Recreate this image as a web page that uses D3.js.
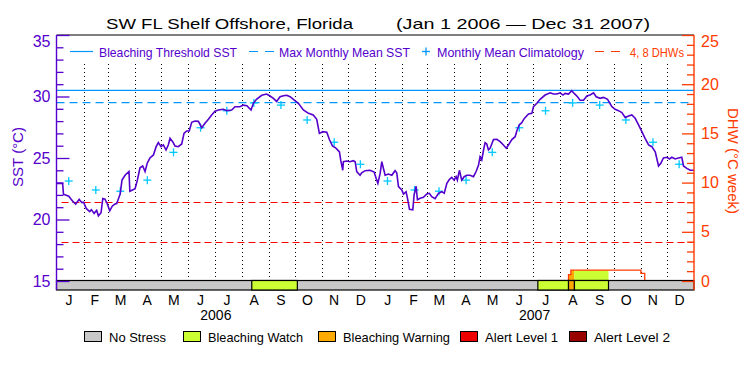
<!DOCTYPE html>
<html>
<head>
<meta charset="utf-8">
<title>SW FL Shelf Offshore, Florida</title>
<script src="https://d3js.org/d3.v7.min.js"></script>
<style>
  body { margin: 0; background: #fff; }
  text { font-family: "Liberation Sans", Arial, sans-serif; }
</style>
</head>
<body>
<script>
// ---------- data ----------
var monthLetters = ["J","F","M","A","M","J","J","A","S","O","N","D"];
var years = [2006, 2007];

// SST series: days since Jan 1 2006, deg C
var sstDay = [0,4,7,8,14,19,22,26,29,31,34,38,40,43,46,48,51,53,55.5,58,61,64,67,69,73,75,78.5,83,84,87,90,
  92.6,95.6,98.7,101.4,104,107,111,114,116.6,119.7,122.4,125.4,128,130,133,135.7,139.5,143.4,146,149,152,
  154.8,158.6,162.5,166.3,170,174,177.7,181.5,185.4,191,195,200.6,204.4,210,214,218,222.8,225.4,229,235,
  240.7,244.5,248.4,252,256,260,263.6,267.5,273,277,282.7,288.5,294,298,301,305,309.5,312.5,316,320,324,
  325.5,327.8,328.5,332.4,336,340,342,343.8,347.6,349.5,353.4,359,363.7,366,368,370.6,372.5,374.4,376.3,
  380,384,387.7,389.6,391.6,395.4,397.3,400.3,402,404.2,408,409.5,411.8,413.3,416.4,420.2,424,427,429.7,
  433.5,437.4,441.2,444,447,450,452.6,455.3,457.6,459,461.4,464,466.8,469.8,473.6,477.5,480.5,483.2,485,
  487,489,490.8,492.7,494.6,496.6,500.4,504.2,508,511.8,515,517.5,521.4,525.2,527.1,530,532.8,535.5,540.5,
  544.3,546.2,550,553.8,559.5,565.3,569,573,576.7,580,582.4,586.3,590,592.8,596.6,599.6,603.5,607.3,611,
  615,618,622.5,626.4,631,636,639.7,643.5,647.4,651.2,655,658.8,662.6,666.5,670.3,674,678,681.7,685.6,
  689.4,692,695,699,702,704.6,708.4,712.3,716,718,721.8,725.6,730];
var sstVal = [22.94,22.94,22.94,22.05,21.9,21.45,21.26,21.64,21.37,21.4,20.9,20.64,20.8,20.5,20.74,20.3,20.55,
  21.7,21.65,21.3,20.7,21.1,21.26,21.3,22.1,23.2,23.6,23.9,22.3,22.4,22.5,
  23.2,24.2,24.35,23.9,24.6,25.0,25.25,25.9,26.25,25.92,26.06,25.65,26.06,26.6,26.33,25.98,25.92,26.14,27.0,27.2,27.2,
  27.9,28.0,27.98,27.46,27.82,28.15,28.5,28.8,28.9,28.96,28.85,28.9,29.17,29.17,29.3,29.25,28.9,29.45,29.77,30.1,
  30.2,30.04,29.85,29.6,29.98,30.06,30.1,29.98,29.66,29.45,28.9,28.63,28.5,28.15,27.0,27.14,27.1,26.5,25.98,25.8,25.5,
  24.8,24.0,24.7,24.75,24.7,24.78,24.7,23.9,23.6,23.8,23.97,24.0,23.86,23.35,22.94,23.75,24.7,24.15,23.6,
  23.7,23.6,23.97,23.8,22.67,22.4,22.07,22.26,21.7,20.83,20.78,22.0,22.7,21.6,21.72,21.8,22.07,22.13,21.86,
  21.7,22.13,22.26,22.13,22.94,23.27,23.43,23.2,23.48,23.2,24.0,23.2,23.48,23.6,23.6,23.48,23.9,24.4,25.1,
  24.84,25.65,26.25,26.14,25.65,25.8,26.5,26.52,26.33,26.06,25.8,26.06,26.5,26.73,27.2,27.7,27.87,28.2,28.58,
  28.63,29.17,29.45,29.77,30.12,30.3,30.2,30.2,30.3,30.12,30.25,30.2,30.47,30.25,29.98,29.7,29.7,30.04,30.12,
  30.3,29.98,29.85,29.93,29.77,29.17,28.96,28.85,28.69,28.3,28.41,28.5,28.23,27.7,27.14,26.6,26.06,25.92,25.5,
  24.35,24.57,25.0,25.06,24.92,25.06,24.92,25.0,25.06,24.35,24.16,24.0,24.0];

// monthly mean climatology (Jan..Dec), deg C
var climVal = [23.13,22.4,22.3,23.2,25.46,27.46,28.84,29.48,29.3,28.09,26.28,24.49];
var mmmSST = 29.5;
var thresholdSST = 30.5;
var dhwLines = [4, 8];

// degree heating weeks (step values), days since Jan 1 2006
var dhwDay = [0, 586.3, 589, 669.2, 673.6, 730];
var dhwVal = [0, 0.64, 1.1, 0.78, 0, 0];

// stress level periods, days since Jan 1 2006
var stressStart = [223.6, 551.2, 586.3, 593.1];
var stressEnd   = [275.8, 586.3, 593.1, 632.1];
var stressLevel = [1, 1, 2, 1];
var stressNames  = ["No Stress","Bleaching Watch","Bleaching Warning","Alert Level 1","Alert Level 2"];
var stressColors = ["#c8c8c8","#ccff33","#ffaa00","#ee0000","#990000"];

// ---------- layout ----------
var W = 750, H = 375;
var pL = 56.5, pR = 694, pT = 35, pB = 290;
var purple = "#5500cc", orange = "#ff3c00", blue = "#0096ff", cyan = "#00c8ff", red = "#ff0000";

var t0 = Date.UTC(2006, 0, 1);
function dayDate(d) { return new Date(t0 + d * 864e5); }

var x = d3.scaleUtc().domain([new Date(t0), new Date(Date.UTC(2008, 0, 1))]).range([pL, pR]);
var y = d3.scaleLinear().domain([15, 35]).range([281, pT]);
var yd = d3.scaleLinear().domain([0, 25]).range([281, pT]);

var svg = d3.select("body").append("svg").attr("width", W).attr("height", H);

// title
svg.append("text").attr("x", 106).attr("y", 28.5).attr("font-size", 15)
  .attr("textLength", 247).attr("lengthAdjust", "spacingAndGlyphs")
  .text("SW FL Shelf Offshore, Florida");
svg.append("text").attr("x", 396).attr("y", 28.5).attr("font-size", 15)
  .attr("textLength", 254).attr("lengthAdjust", "spacingAndGlyphs")
  .text("(Jan 1 2006 \u2014 Dec 31 2007)");

// month dividers
var monthStarts = d3.utcMonth.range(new Date(t0), new Date(Date.UTC(2008, 0, 1)));
svg.append("g").selectAll("line").data(monthStarts.slice(1)).enter().append("line")
  .attr("x1", function(d) { return Math.round(x(d)) + 0.5; })
  .attr("x2", function(d) { return Math.round(x(d)) + 0.5; })
  .attr("y1", 64).attr("y2", 280)
  .attr("stroke", "#000").attr("stroke-width", 1).attr("stroke-dasharray", "1,3");

// threshold lines
svg.append("line").attr("x1", pL).attr("x2", pR)
  .attr("y1", y(thresholdSST)).attr("y2", y(thresholdSST))
  .attr("stroke", blue).attr("stroke-width", 1.2);
svg.append("line").attr("x1", pL).attr("x2", pR - 4)
  .attr("y1", y(mmmSST)).attr("y2", y(mmmSST))
  .attr("stroke", blue).attr("stroke-width", 1.2).attr("stroke-dasharray", "8,5");
svg.append("g").selectAll("line").data(dhwLines).enter().append("line")
  .attr("x1", pL + 5).attr("x2", pR)
  .attr("y1", function(d) { return Math.round(yd(d)) + 0.5; })
  .attr("y2", function(d) { return Math.round(yd(d)) + 0.5; })
  .attr("stroke", red).attr("stroke-width", 1.2).attr("stroke-dasharray", "7,4");

// DHW area, filled with the stress colour of each period
var dhwPts = dhwDay.map(function(d, i) { return [dayDate(d), dhwVal[i]]; });
var dhwArea = d3.area().curve(d3.curveStepAfter)
  .x(function(d) { return x(d[0]); }).y0(yd(0)).y1(function(d) { return yd(d[1]); });
var defs = svg.append("defs");
stressStart.forEach(function(s, i) {
  var id = "clip" + i;
  defs.append("clipPath").attr("id", id).append("rect")
    .attr("x", x(dayDate(s))).attr("width", x(dayDate(stressEnd[i])) - x(dayDate(s)))
    .attr("y", pT).attr("height", pB - pT);
  svg.append("path").datum(dhwPts).attr("d", dhwArea)
    .attr("fill", stressColors[stressLevel[i]]).attr("clip-path", "url(#" + id + ")");
});
svg.append("path").datum(dhwPts)
  .attr("d", d3.line().curve(d3.curveStepAfter)
    .x(function(d) { return x(d[0]); }).y(function(d) { return yd(d[1]); }))
  .attr("fill", "none").attr("stroke", orange).attr("stroke-width", 1.3);

// climatology crosses
var climPts = [];
years.forEach(function(yr) {
  climVal.forEach(function(v, m) { climPts.push([new Date(Date.UTC(yr, m, 15)), v]); });
});
var cross = svg.append("g").selectAll("g").data(climPts).enter().append("g")
  .attr("transform", function(d) { return "translate(" + x(d[0]) + "," + y(d[1]) + ")"; });
cross.append("line").attr("x1", -4).attr("x2", 4).attr("stroke", cyan).attr("stroke-width", 1.3);
cross.append("line").attr("y1", -4).attr("y2", 4).attr("stroke", cyan).attr("stroke-width", 1.3);

// SST line
var sstPts = sstDay.map(function(d, i) { return [dayDate(d), sstVal[i]]; });
svg.append("path").datum(sstPts)
  .attr("d", d3.line().x(function(d) { return x(d[0]); }).y(function(d) { return y(d[1]); }))
  .attr("fill", "none").attr("stroke", purple).attr("stroke-width", 1.6)
  .attr("stroke-linejoin", "miter");

// stress bar
svg.append("rect").attr("x", pL).attr("y", 280.5).attr("width", pR - pL).attr("height", 9.5)
  .attr("fill", stressColors[0]).attr("stroke", "#000").attr("stroke-width", 1.2);
svg.append("g").selectAll("rect").data(stressStart).enter().append("rect")
  .attr("x", function(d) { return x(dayDate(d)); })
  .attr("width", function(d, i) { return x(dayDate(stressEnd[i])) - x(dayDate(d)); })
  .attr("y", 280.5).attr("height", 9.5)
  .attr("fill", function(d, i) { return stressColors[stressLevel[i]]; })
  .attr("stroke", "#000").attr("stroke-width", 1.2);

// frame: top line, axes
svg.append("line").attr("x1", pL).attr("x2", pR).attr("y1", pT).attr("y2", pT)
  .attr("stroke", "#000").attr("stroke-width", 1.2);
svg.append("line").attr("x1", pL).attr("x2", pL).attr("y1", pT).attr("y2", pB)
  .attr("stroke", purple).attr("stroke-width", 1.4);
svg.append("line").attr("x1", pR).attr("x2", pR).attr("y1", pT).attr("y2", pB)
  .attr("stroke", orange).attr("stroke-width", 1.4);

// left axis ticks + labels
var sstAll = d3.range(15, 36, 1), sstMajor = [15, 20, 25, 30, 35];
var gl = svg.append("g").attr("transform", "translate(" + pL + ",0)");
gl.call(d3.axisRight(y).tickValues(sstAll).tickFormat("").tickSizeOuter(0).tickSize(7));
gl.selectAll(".tick line").attr("x2", function(d) { return sstMajor.indexOf(d) >= 0 ? 13 : 7; })
  .attr("stroke", purple).attr("stroke-width", 1.3);
gl.select(".domain").remove();
var gll = svg.append("g").attr("transform", "translate(" + (pL - 4) + ",0)");
gll.call(d3.axisLeft(y).tickValues(sstMajor).tickSize(0).tickPadding(2));
gll.select(".domain").remove();
gll.selectAll("text").attr("fill", purple).attr("font-size", 16)
  .attr("font-family", "Liberation Sans, Arial, sans-serif")
  .attr("dy", function(d) { return d === 35 ? "0.7em" : "0.32em"; });

// right axis ticks + labels
var dhwAll = d3.range(0, 26, 1), dhwMajor = [0, 5, 10, 15, 20, 25];
var gr = svg.append("g").attr("transform", "translate(" + pR + ",0)");
gr.call(d3.axisLeft(yd).tickValues(dhwAll).tickFormat("").tickSizeOuter(0).tickSize(7));
gr.selectAll(".tick line").attr("x2", function(d) { return dhwMajor.indexOf(d) >= 0 ? -12 : -7; })
  .attr("stroke", orange).attr("stroke-width", 1.3);
gr.select(".domain").remove();
var grl = svg.append("g").attr("transform", "translate(" + (pR + 5) + ",0)");
grl.call(d3.axisRight(yd).tickValues(dhwMajor).tickSize(0).tickPadding(2));
grl.select(".domain").remove();
grl.selectAll("text").attr("fill", orange).attr("font-size", 16)
  .attr("font-family", "Liberation Sans, Arial, sans-serif")
  .attr("dy", function(d) { return d === 25 ? "0.7em" : "0.32em"; });

// axis titles
svg.append("text").attr("transform", "translate(23,157) rotate(-90)")
  .attr("text-anchor", "middle").attr("font-size", 15).attr("fill", purple)
  .text("SST (\u00b0C)");
svg.append("text").attr("transform", "translate(728,161) rotate(90)")
  .attr("text-anchor", "middle").attr("font-size", 15).attr("fill", orange)
  .text("DHW (\u00b0C week)");

// month and year labels
svg.append("g").selectAll("text").data(monthStarts).enter().append("text")
  .attr("x", function(d) { return (x(d) + x(d3.utcMonth.offset(d, 1))) / 2 - 1; })
  .attr("y", 305).attr("text-anchor", "middle").attr("font-size", 14)
  .text(function(d) { return monthLetters[d.getUTCMonth()]; });
svg.append("g").selectAll("text").data(years).enter().append("text")
  .attr("x", function(d) { return (x(new Date(Date.UTC(d, 0, 1))) + x(new Date(Date.UTC(d + 1, 0, 1)))) / 2; })
  .attr("y", 319.5).attr("text-anchor", "middle").attr("font-size", 14)
  .text(function(d) { return d; });

// top legend
var ly = 51.5;
svg.append("line").attr("x1", 70).attr("x2", 93).attr("y1", ly).attr("y2", ly)
  .attr("stroke", blue).attr("stroke-width", 1.2);
svg.append("text").attr("x", 99).attr("y", ly + 5).attr("font-size", 13).attr("fill", purple)
  .attr("textLength", 138).attr("lengthAdjust", "spacingAndGlyphs").text("Bleaching Threshold SST");
svg.append("line").attr("x1", 249).attr("x2", 274).attr("y1", ly).attr("y2", ly)
  .attr("stroke", blue).attr("stroke-width", 1.2).attr("stroke-dasharray", "9,7");
svg.append("text").attr("x", 279).attr("y", ly + 5).attr("font-size", 13).attr("fill", purple)
  .attr("textLength", 131).attr("lengthAdjust", "spacingAndGlyphs").text("Max Monthly Mean SST");
svg.append("line").attr("x1", 422).attr("x2", 430).attr("y1", ly).attr("y2", ly)
  .attr("stroke", blue).attr("stroke-width", 1.3);
svg.append("line").attr("x1", 426).attr("x2", 426).attr("y1", ly - 4).attr("y2", ly + 4)
  .attr("stroke", blue).attr("stroke-width", 1.3);
svg.append("text").attr("x", 437).attr("y", ly + 5).attr("font-size", 13).attr("fill", purple)
  .attr("textLength", 147).attr("lengthAdjust", "spacingAndGlyphs").text("Monthly Mean Climatology");
svg.append("line").attr("x1", 595).attr("x2", 621).attr("y1", ly).attr("y2", ly)
  .attr("stroke", orange).attr("stroke-width", 1.2).attr("stroke-dasharray", "9,7");
svg.append("text").attr("x", 630).attr("y", ly + 5).attr("font-size", 13).attr("fill", orange)
  .attr("textLength", 54).attr("lengthAdjust", "spacingAndGlyphs").text("4, 8 DHWs");

// bottom legend
var boxX = [84, 183, 318, 460, 569];
var textW = [57, 95, 107, 73, 76];
var lg = svg.append("g").selectAll("g").data(stressNames).enter().append("g");
lg.append("rect").attr("x", function(d, i) { return boxX[i] + 0.5; }).attr("y", 331.5)
  .attr("width", 17).attr("height", 10)
  .attr("fill", function(d, i) { return stressColors[i]; })
  .attr("stroke", "#000").attr("stroke-width", 1);
lg.append("text").attr("x", function(d, i) { return boxX[i] + 25; }).attr("y", 341.5)
  .attr("font-size", 13)
  .attr("textLength", function(d, i) { return textW[i]; }).attr("lengthAdjust", "spacingAndGlyphs")
  .text(function(d) { return d; });
</script>
</body>
</html>
